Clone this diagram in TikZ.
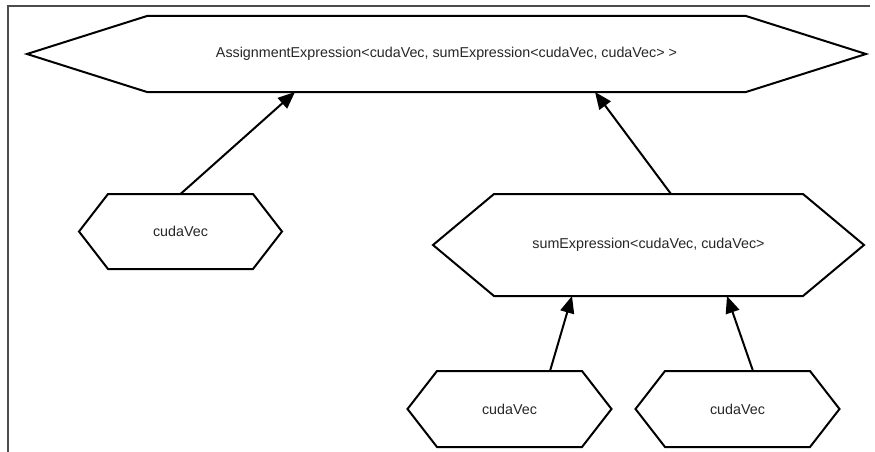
\documentclass[tikz,border=0pt]{standalone}
\usepackage{fontspec}
\setmainfont{Liberation Sans}
\usetikzlibrary{arrows.meta}
\tikzset{
  hexbody/.style={inner sep=0pt, outer sep=0pt, text=black!85, font=\fontsize{14.3}{16}\selectfont},
  hexline/.style={draw=black, line width=2pt, line join=miter},
  arr/.style={draw=black, line width=2pt, -{Triangle[length=17pt,width=14pt]}},
  border/.style={draw=black!70, line width=1.4pt}
}
\begin{document}
\begin{tikzpicture}[x=1pt,y=-1pt]
\useasboundingbox (0,0) rectangle (875,452);
\fill[white] (0,0) rectangle (875,452);
\draw[border] (870,6) -- (8,6) -- (8,452);

\node[hexbody, minimum width=599pt, minimum height=76pt] (A) at (446.5,54) {AssignmentExpression<cudaVec, sumExpression<cudaVec, cudaVec> >};
\draw[hexline] (A.north west) -- (A.north east) -- ([xshift=120pt]A.east) -- (A.south east) -- (A.south west) -- ([xshift=-120pt]A.west) -- cycle;

\node[hexbody, minimum width=145pt, minimum height=75pt] (B) at (180.5,231.5) {cudaVec};
\draw[hexline] (B.north west) -- (B.north east) -- ([xshift=29pt]B.east) -- (B.south east) -- (B.south west) -- ([xshift=-29pt]B.west) -- cycle;

\node[hexbody, minimum width=309pt, minimum height=102pt] (C) at (648.5,245) {sumExpression<cudaVec, cudaVec>};
\draw[hexline] (C.north west) -- (C.north east) -- ([xshift=61pt]C.east) -- (C.south east) -- (C.south west) -- ([xshift=-61pt]C.west) -- cycle;

\node[hexbody, minimum width=145pt, minimum height=76pt] (D) at (509.5,409) {cudaVec};
\draw[hexline] (D.north west) -- (D.north east) -- ([xshift=29.5pt]D.east) -- (D.south east) -- (D.south west) -- ([xshift=-29.5pt]D.west) -- cycle;

\node[hexbody, minimum width=145pt, minimum height=76pt] (E) at (737.5,409) {cudaVec};
\draw[hexline] (E.north west) -- (E.north east) -- ([xshift=29.5pt]E.east) -- (E.south east) -- (E.south west) -- ([xshift=-29.5pt]E.west) -- cycle;

\draw[arr] (B.north) -- ([xshift=-151.5pt]A.south);
\draw[arr] ([xshift=22.5pt]C.north) -- ([xshift=148.5pt]A.south);
\draw[arr] ([xshift=40.5pt]D.north) -- ([xshift=-76.5pt]C.south);
\draw[arr] ([xshift=15.5pt]E.north) -- ([xshift=78.5pt]C.south);
\end{tikzpicture}
\end{document}
